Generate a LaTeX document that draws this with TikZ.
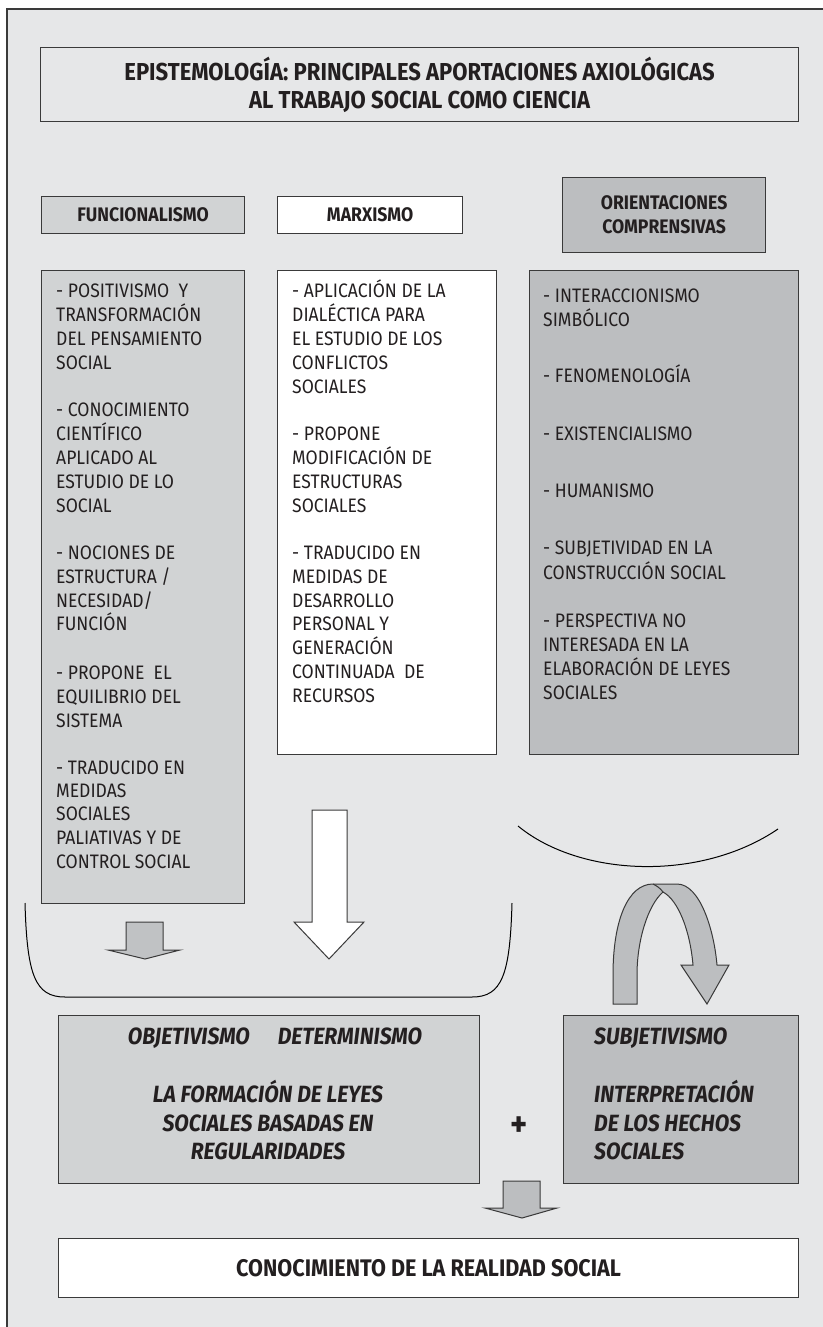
\documentclass[tikz,border=0pt]{standalone}
\usepackage{fontspec}
\setmainfont{Fira Sans}[FakeStretch=0.9]
\definecolor{panel}{HTML}{E6E7E8}
\definecolor{greyA}{HTML}{D1D3D4}
\definecolor{greyB}{HTML}{BCBEC0}
\definecolor{edge}{HTML}{3A3A3A}
\definecolor{ink}{HTML}{231F20}
\begin{document}
\begin{tikzpicture}[x=1pt,y=-1pt,
  box/.style={draw=edge, line width=1.2pt, inner sep=0pt, anchor=north west, text=ink},
  hdr/.style={box, font=\fontsize{19.6}{24}\selectfont\bfseries, align=center},
  ln/.style={anchor=base west, inner sep=0pt, text=ink, font=\fontsize{19.5}{23}\selectfont},
  lnit/.style={inner sep=0pt, text=ink, font=\fontsize{23.5}{28.5}\selectfont\bfseries\itshape},
  blockarrow/.style={draw=edge, line width=1pt, line join=miter},
  curve/.style={draw=black, line width=1pt}]
\useasboundingbox (0,0) rectangle (822,1327);

% background panel with its top and left border
\fill[panel] (7,9) rectangle (823,1328);
\draw[edge, line width=1.6pt] (7,1328) -- (7,9) -- (823,9);

% title
\node[box, fill=panel, minimum width=758, minimum height=74,
      font=\fontsize{24.5}{28}\selectfont\bfseries, align=center] (title) at (40,47)
  {EPISTEMOLOGÍA: PRINCIPALES APORTACIONES AXIOLÓGICAS\\AL TRABAJO SOCIAL COMO CIENCIA};

% column headers
\node[hdr, fill=greyA, minimum width=203, minimum height=37] (hfun) at (41,196) {FUNCIONALISMO};
\node[hdr, fill=white, minimum width=185, minimum height=37] (hmar) at (277,196) {MARXISMO};
\node[hdr, fill=greyB, minimum width=203, minimum height=75] (hori) at (562,177) {ORIENTACIONES\\COMPRENSIVAS};

% column bodies
\node[box, fill=greyA, minimum width=203, minimum height=633] (bfun) at (41,270) {};
\node[box, fill=white, minimum width=219, minimum height=484] (bmar) at (277,270) {};
\node[box, fill=greyB, minimum width=269, minimum height=484] (bori) at (529,270) {};

% functionalism items
\foreach \y/\t in {290/{- POSITIVISMO~ Y}, 314/{TRANSFORMACIÓN}, 338/{DEL PENSAMIENTO}, 362/{SOCIAL},
  409/{- CONOCIMIENTO}, 433/{CIENTÍFICO}, 457/{APLICADO AL}, 481/{ESTUDIO DE LO}, 505/{SOCIAL},
  552/{- NOCIONES DE}, 576/{ESTRUCTURA /}, 600/{NECESIDAD/}, 623/{FUNCIÓN},
  672/{- PROPONE~ EL}, 696/{EQUILIBRIO DEL}, 720/{SISTEMA},
  767/{- TRADUCIDO EN}, 790/{MEDIDAS}, 813/{SOCIALES}, 837/{PALIATIVAS Y DE}, 861/{CONTROL SOCIAL}}
  \node[ln] (f\y) at (56,\y+7) {\t};

% marxism items
\foreach \y/\t in {290/{- APLICACIÓN DE LA}, 314/{DIALÉCTICA PARA}, 338/{EL ESTUDIO DE LOS}, 362/{CONFLICTOS}, 386/{SOCIALES},
  433/{- PROPONE}, 457/{MODIFICACIÓN DE}, 481/{ESTRUCTURAS}, 505/{SOCIALES},
  552/{- TRADUCIDO EN}, 576/{MEDIDAS DE}, 600/{DESARROLLO}, 623/{PERSONAL Y}, 647/{GENERACIÓN},
  671/{CONTINUADA~ DE}, 695/{RECURSOS}}
  \node[ln] (m\y) at (292,\y+7) {\t};

% comprehensive orientations items
\foreach \y/\t in {295/{- INTERACCIONISMO}, 319/{SIMBÓLICO}, 375/{- FENOMENOLOGÍA}, 433/{- EXISTENCIALISMO},
  490/{- HUMANISMO}, 547/{- SUBJETIVIDAD EN LA}, 572/{CONSTRUCCIÓN SOCIAL},
  620/{- PERSPECTIVA NO}, 644/{INTERESADA EN LA}, 668/{ELABORACIÓN DE LEYES}, 692/{SOCIALES}}
  \node[ln] (o\y) at (543,\y+7) {\t};

% bracket under the first two columns and arc under the third
\draw[curve] (25,903) .. controls (27,975) and (35,997) .. (65,997) -- (472,997)
  .. controls (502,997) and (510,975) .. (512,903);
\draw[curve] (518,826) .. controls (580,877) and (700,882) .. (778,829);

% block arrows
\filldraw[blockarrow, fill=white] (312,810) -- (347,810) -- (347,922) -- (364,922) -- (329,959)
  -- (294,922) -- (312,922) -- cycle;
\filldraw[blockarrow, fill=greyB!80!greyA] (126,922) -- (163,922) -- (163,950) -- (180,950) -- (145,959)
  -- (108,950) -- (126,950) -- cycle;
\filldraw[blockarrow, fill=greyB] (503,1181) -- (540,1181) -- (540,1208) -- (557,1208) -- (522,1218)
  -- (485,1208) -- (503,1208) -- cycle;

% folded u-turn arrow
\filldraw[blockarrow, fill=greyB] (613,1004) -- (613,975) .. controls (613,920) and (628,884) .. (653,884)
  -- (677,884) .. controls (700,884) and (714,930) .. (717,965) -- (729,965) -- (707,1004) -- (681,965)
  -- (693,965) .. controls (690,930) and (678,900) .. (663,892)
  .. controls (648,905) and (637,940) .. (637,975) -- (637,1004) -- cycle;
\draw[edge, line width=1pt] (653,884) .. controls (657,886) and (660,888) .. (663,892);

% resulting positions
\node[box, fill=greyA, minimum width=421, minimum height=168] (obj) at (58,1015) {};
\node[lnit] (objt) at (275,1038) {OBJETIVISMO\hspace{28pt}DETERMINISMO};
\node[lnit, align=center, anchor=north] (objl) at (268,1080)
  {LA FORMACIÓN DE LEYES\\SOCIALES BASADAS EN\\REGULARIDADES};

\node[box, fill=greyB, minimum width=235, minimum height=168] (subj) at (563,1015) {};
\node[lnit, anchor=west] (subt) at (594,1038) {SUBJETIVISMO};
\node[lnit, align=left, anchor=north west] (subl) at (594,1080)
  {INTERPRETACIÓN\\DE LOS HECHOS\\SOCIALES};

\node[inner sep=0pt, text=ink, font=\fontsize{36}{36}\selectfont\bfseries] (plus) at (519,1127) {+};

% conclusion
\node[box, fill=white, minimum width=740, minimum height=59,
      font=\fontsize{24}{28}\selectfont\bfseries] (final) at (58,1238)
  {CONOCIMIENTO DE LA REALIDAD SOCIAL};
\end{tikzpicture}
\end{document}
